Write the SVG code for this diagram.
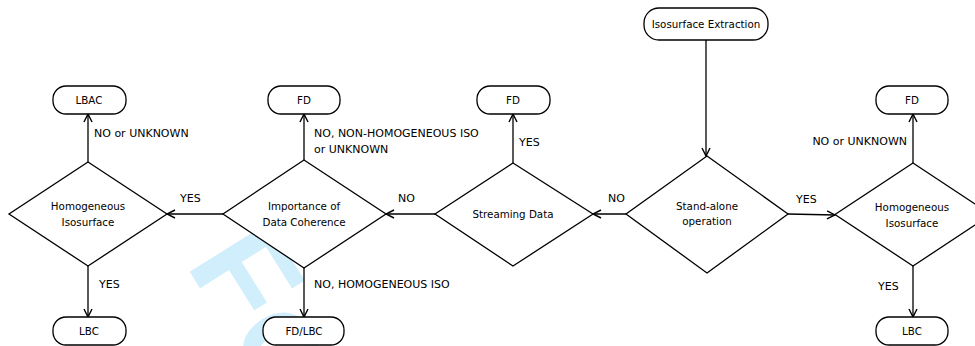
<svg xmlns="http://www.w3.org/2000/svg" width="975" height="346" viewBox="0 0 975 346">
<style>
.box{fill:#fff;stroke:#000;stroke-width:1.3}
.dia{fill:#fff;stroke:#000;stroke-width:1.3}
.edge{fill:none;stroke:#000;stroke-width:1.3;marker-end:url(#arr)}
.nt{font-family:"DejaVu Sans",sans-serif;font-size:10.3px;fill:#000;text-anchor:middle}
.lb{font-family:"DejaVu Sans",sans-serif;font-size:11px;fill:#000}
.wm{font-family:"Liberation Sans",Arial,sans-serif;font-weight:bold;font-size:135px;fill:#d0eefb}
</style>
<defs>
<marker id="arr" viewBox="0 0 10 10" refX="9" refY="5" markerWidth="10" markerHeight="10" markerUnits="userSpaceOnUse" orient="auto">
<path d="M1,1 L9,5 L1,9" fill="none" stroke="#000" stroke-width="1.4"/>
</marker>
</defs>
<rect width="975" height="346" fill="#fff"/>
<text class="wm" transform="translate(185,264) rotate(58)">Fo</text>

<g id="connectors">
<path class="edge" d="M706,40 V156"/>
<path class="edge" d="M626,214 H593"/>
<path class="edge" d="M788,214 L835,215"/>
<path class="edge" d="M513,163 V114"/>
<path class="edge" d="M435,214 H386"/>
<path class="edge" d="M304,160 V114"/>
<path class="edge" d="M304,268 V317"/>
<path class="edge" d="M223,214 H167"/>
<path class="edge" d="M88,162 V114"/>
<path class="edge" d="M88,266 V317"/>
<path class="edge" d="M913,163 V114"/>
<path class="edge" d="M913,266 V317"/>
<text class="lb" x="608" y="202">NO</text>
<text class="lb" x="796" y="203">YES</text>
<text class="lb" x="519" y="146">YES</text>
<text class="lb" x="398" y="202">NO</text>
<text class="lb" x="314" y="137">NO, NON-HOMOGENEOUS ISO</text>
<text class="lb" x="314" y="153">or UNKNOWN</text>
<text class="lb" x="314" y="288">NO, HOMOGENEOUS ISO</text>
<text class="lb" x="180" y="202">YES</text>
<text class="lb" x="94" y="137">NO or UNKNOWN</text>
<text class="lb" x="99" y="288">YES</text>
<text class="lb" x="907" y="145" text-anchor="end">NO or UNKNOWN</text>
<text class="lb" x="878" y="290">YES</text>
</g>

<g id="n-extract">
<rect class="box" x="644" y="8" width="124" height="32" rx="15"/>
<text class="nt" x="706" y="28">Isosurface Extraction</text>
</g>
<g id="n-standalone">
<polygon class="dia" points="707,156 788,214 707,273 626,214"/>
<text class="nt" x="707" y="210">Stand-alone</text>
<text class="nt" x="707" y="225">operation</text>
</g>
<g id="n-streaming">
<polygon class="dia" points="513,163 593,214 513,266 435,214"/>
<text class="nt" x="513" y="218">Streaming Data</text>
</g>
<g id="n-fd-streaming">
<rect class="box" x="477" y="86" width="73" height="28" rx="13"/>
<text class="nt" x="513" y="104">FD</text>
</g>
<g id="n-importance">
<polygon class="dia" points="304,160 386,214 304,268 223,214"/>
<text class="nt" x="304" y="210">Importance of</text>
<text class="nt" x="304" y="226">Data Coherence</text>
</g>
<g id="n-fd-importance">
<rect class="box" x="268" y="86" width="72" height="28" rx="13"/>
<text class="nt" x="304" y="104">FD</text>
</g>
<g id="n-fdlbc">
<rect class="box" x="263" y="317" width="81" height="28" rx="13"/>
<text class="nt" x="304" y="335">FD/LBC</text>
</g>
<g id="n-homog-left">
<polygon class="dia" points="88,162 167,214 88,266 9,214"/>
<text class="nt" x="88" y="210">Homogeneous</text>
<text class="nt" x="88" y="226">Isosurface</text>
</g>
<g id="n-lbac">
<rect class="box" x="53" y="86" width="73" height="28" rx="13"/>
<text class="nt" x="89" y="104">LBAC</text>
</g>
<g id="n-lbc-left">
<rect class="box" x="53" y="317" width="73" height="28" rx="13"/>
<text class="nt" x="89" y="335">LBC</text>
</g>
<g id="n-homog-right">
<polygon class="dia" points="913,163 991,214.5 913,266 835,214.5"/>
<text class="nt" x="912" y="211">Homogeneous</text>
<text class="nt" x="912" y="227">Isosurface</text>
</g>
<g id="n-fd-right">
<rect class="box" x="876" y="86" width="72" height="28" rx="13"/>
<text class="nt" x="912" y="104">FD</text>
</g>
<g id="n-lbc-right">
<rect class="box" x="876" y="317" width="72" height="28" rx="13"/>
<text class="nt" x="912" y="335">LBC</text>
</g>
</svg>
